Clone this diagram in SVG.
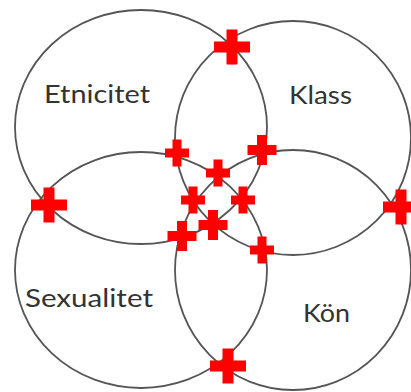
<svg xmlns="http://www.w3.org/2000/svg" xmlns:xlink="http://www.w3.org/1999/xlink" width="411" height="392" viewBox="0 0 411 392">
<style>
.ring{fill:none;stroke:#555;stroke-width:1.8}
.lbl{font-family:Lato,"Liberation Sans",sans-serif;font-size:25px;fill:#333}
.cross{fill:#ff0000}
</style>
<defs>
<path id="pb" class="cross" d="M-5.5,-17.5h11v12h12.5v11h-12.5v12h-11v-12h-12.5v-11h12.5z"/>
<path id="pm" class="cross" d="M-5,-15h10v10h9.5v10h-9.5v10h-10v-10h-9.5v-10h9.5z"/>
<path id="ps" class="cross" d="M-4.5,-13.5h9v9h7.5v9h-7.5v9h-9v-9h-7.5v-9h7.5z"/>
</defs>
<rect width="411" height="392" fill="#fff"/>
<g id="etnicitet">
<ellipse class="ring" cx="141" cy="127" rx="126" ry="117"/>
<text class="lbl" x="44" y="103" textLength="106" lengthAdjust="spacingAndGlyphs">Etnicitet</text>
</g>
<g id="klass">
<ellipse class="ring" cx="293" cy="138" rx="118" ry="117"/>
<text class="lbl" x="289" y="104" textLength="63" lengthAdjust="spacingAndGlyphs">Klass</text>
</g>
<g id="sexualitet">
<ellipse class="ring" cx="141" cy="270" rx="126" ry="118"/>
<text class="lbl" x="25" y="307" textLength="128" lengthAdjust="spacingAndGlyphs">Sexualitet</text>
</g>
<g id="kon">
<ellipse class="ring" cx="293" cy="270" rx="118" ry="120"/>
<text class="lbl" x="303" y="322" textLength="47" lengthAdjust="spacingAndGlyphs">Kön</text>
</g>
<g id="intersections">
<use href="#pb" x="232" y="47"/>
<use href="#pb" x="49" y="205"/>
<use href="#pb" x="401" y="207"/>
<use href="#pb" x="228" y="366"/>
<use href="#pm" x="262" y="150"/>
<use href="#pm" x="213" y="225"/>
<use href="#pm" x="182" y="236"/>
<use href="#ps" x="177" y="153"/>
<use href="#ps" x="218" y="173"/>
<use href="#ps" x="193" y="200"/>
<use href="#ps" x="243" y="200"/>
<use href="#ps" x="262" y="250"/>
</g>
</svg>
